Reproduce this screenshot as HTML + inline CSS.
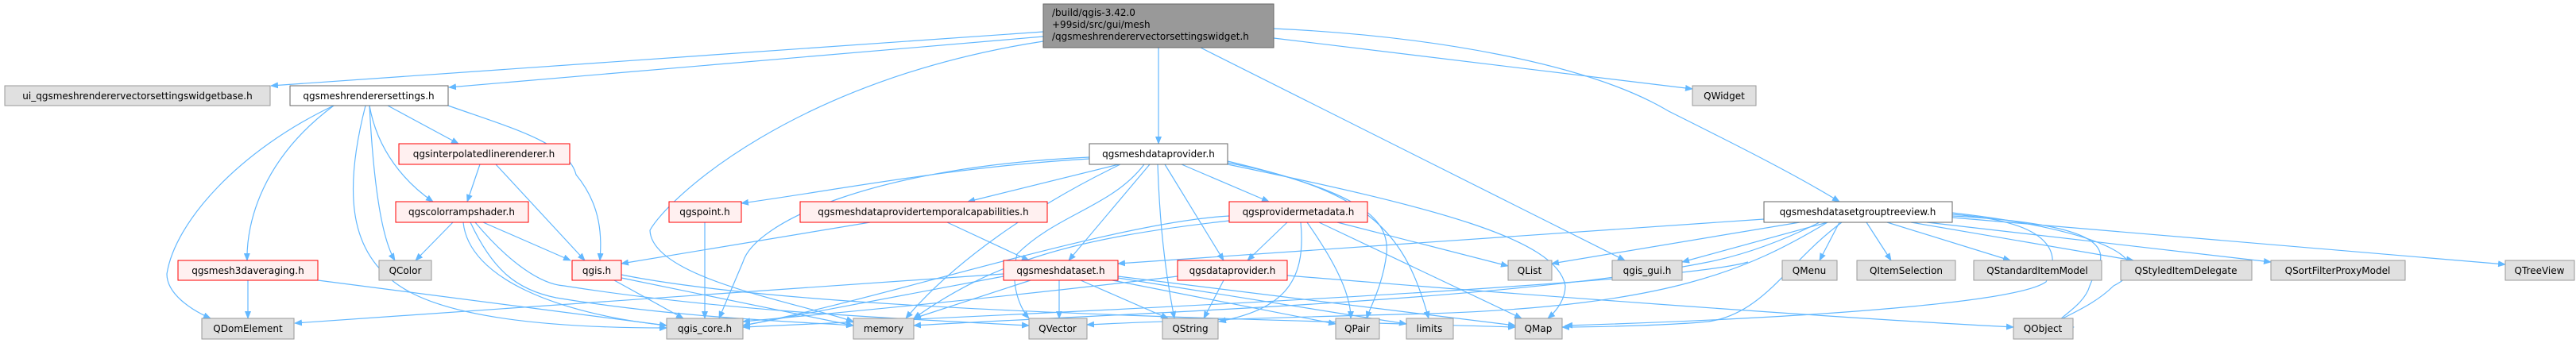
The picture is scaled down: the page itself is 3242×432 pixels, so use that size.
<!DOCTYPE html>
<html><head><meta charset="utf-8"><style>
html,body{margin:0;padding:0;background:#fff;}
svg{display:block;}
text{font-family:"DejaVu Sans","Liberation Sans",sans-serif;font-size:12px;fill:#000;}
.e{fill:none;stroke:#63b8ff;stroke-width:1.2;marker-end:url(#a);}
.g{fill:#e0e0e0;stroke:#999;}
.r{fill:#fff0f0;stroke:#f00;}
.w{fill:#fff;stroke:#666;}
</style></head><body>
<svg width="3242" height="432" viewBox="0 0 3242 432" xmlns="http://www.w3.org/2000/svg">
<defs><marker id="a" markerWidth="10" markerHeight="8" refX="9" refY="4" orient="auto" markerUnits="userSpaceOnUse"><path d="M0,0 L10,4 L0,8 z" fill="#63b8ff"/></marker></defs>
<g>
<!-- main -->
<path class="e" d="M1313,40 L341,108"/>
<path class="e" d="M1313,46 L565,110"/>
<path class="e" d="M1458,60 L1458,181"/>
<path class="e" d="M1511,60 L2045,328"/>
<path class="e" d="M1603,48 L2130,112"/>
<path class="e" d="M1603,36 C1800,45 2000,80 2100,140 C2180,180 2260,220 2315,254"/>
<path class="e" d="M1313,52 C1000,100 840,250 818,290 C820,350 1000,380 1074,405"/>
<!-- renderer settings -->
<path class="e" d="M420,133 C300,190 220,280 210,345 C210,370 240,390 265,401"/>
<path class="e" d="M420,133 C330,200 310,280 311,328"/>
<path class="e" d="M460,133 C430,250 440,330 520,370 C600,410 760,413 839,413"/>
<path class="e" d="M465,133 C470,230 480,300 497,328"/>
<path class="e" d="M465,133 C475,190 510,230 545,254"/>
<path class="e" d="M488,133 L577,181"/>
<path class="e" d="M564,133 C640,160 715,180 725,220 C758,260 757,300 755,328"/>
<!-- interpolated -->
<path class="e" d="M604,207 L588,254"/>
<path class="e" d="M624,207 L736,328"/>
<!-- colorramp -->
<path class="e" d="M570,280 L523,328"/>
<path class="e" d="M608,280 L718,328"/>
<path class="e" d="M583,280 C590,350 700,395 839,410"/>
<path class="e" d="M592,280 C620,340 650,365 700,375 C850,400 1000,405 1074,410"/>
<path class="e" d="M598,280 C640,330 680,358 710,360 C900,390 1100,400 1295,410"/>
<!-- 3daveraging -->
<path class="e" d="M312,353 L312,401"/>
<path class="e" d="M400,353 L839,410"/>
<!-- qgis.h -->
<path class="e" d="M773,353 L860,401"/>
<path class="e" d="M782,350 L1074,410"/>
<path class="e" d="M782,346 C1000,390 1500,400 1907,412"/>
<!-- qgspoint -->
<path class="e" d="M887,280 L887,401"/>
<!-- temporalcaps -->
<path class="e" d="M1095,280 L782,332"/>
<path class="e" d="M1192,280 L1295,328"/>
<!-- meshdataprovider -->
<path class="e" d="M1371,200 C1200,210 1050,240 933,256"/>
<path class="e" d="M1408,207 L1218,254"/>
<path class="e" d="M1371,198 C1100,210 950,280 935,330 L905,401"/>
<path class="e" d="M1447,207 L1345,328"/>
<path class="e" d="M1440,207 C1400,260 1330,270 1280,320 C1270,360 1285,390 1295,401"/>
<path class="e" d="M1457,207 C1460,300 1470,360 1478,401"/>
<path class="e" d="M1466,207 L1540,328"/>
<path class="e" d="M1487,207 L1597,254"/>
<path class="e" d="M1545,203 C1700,240 1750,270 1745,320 C1740,360 1725,385 1720,401"/>
<path class="e" d="M1545,205 C1730,240 1770,300 1798,401"/>
<path class="e" d="M1545,207 C1800,260 1960,300 1970,360 C1970,380 1955,395 1948,401"/>
<path class="e" d="M1410,207 C1300,260 1200,330 1140,401"/>
<!-- providermetadata -->
<path class="e" d="M1547,272 C1400,280 1100,380 935,410"/>
<path class="e" d="M1547,278 C1350,300 1250,330 1150,401"/>
<path class="e" d="M1683,280 L1898,335"/>
<path class="e" d="M1620,280 L1570,328"/>
<path class="e" d="M1637,280 C1645,360 1610,390 1534,405"/>
<path class="e" d="M1645,280 C1680,330 1700,370 1700,401"/>
<path class="e" d="M1660,280 L1915,401"/>
<!-- meshdataset -->
<path class="e" d="M1333,353 L1333,401"/>
<path class="e" d="M1360,353 L1470,401"/>
<path class="e" d="M1400,353 L1681,408"/>
<path class="e" d="M1407,350 L1770,408"/>
<path class="e" d="M1407,348 L1907,410"/>
<path class="e" d="M1297,353 L1150,401"/>
<path class="e" d="M1263,348 L935,410"/>
<path class="e" d="M1263,345 C900,370 600,390 371,407"/>
<!-- dataprovider -->
<path class="e" d="M1540,353 L1515,401"/>
<path class="e" d="M1620,347 C1900,370 2300,400 2534,412"/>
<path class="e" d="M1482,348 C1300,370 1100,390 935,405"/>
<!-- treeview -->
<path class="e" d="M2315,280 L2290,328"/>
<path class="e" d="M2349,280 L2380,328"/>
<path class="e" d="M2375,280 L2530,328"/>
<path class="e" d="M2405,280 L2685,328"/>
<path class="e" d="M2425,280 L2858,330"/>
<path class="e" d="M2457,274 L3153,333"/>
<path class="e" d="M2220,276 L1407,332"/>
<path class="e" d="M2265,280 L1953,332"/>
<path class="e" d="M2300,280 L2117,330"/>
<path class="e" d="M2318,280 C2250,330 2220,395 2150,405 C2100,410 2000,412 1966,412"/>
<path class="e" d="M2300,280 C2200,340 2100,385 1800,395 C1600,400 1450,405 1368,409"/>
<path class="e" d="M2290,280 C2250,300 2200,320 2150,330 C1900,380 1400,395 1150,410"/>
<path class="e" d="M2457,270 C2600,280 2590,330 2575,355 C2540,380 2300,400 1970,410"/>
<path class="e" d="M2457,272 C2700,285 2640,330 2630,360 C2620,395 2560,410 2609,412"/>
<path class="e" d="M2457,268 C2650,290 2720,330 2660,360 C2620,400 2550,410 2610,412"/>
<path class="e" d="M2200,330 C2100,360 1200,400 935,412"/>
</g>
<!-- nodes -->
<rect class="g" x="6" y="108" width="334" height="25"/><text x="173" y="125" text-anchor="middle">ui_qgsmeshrenderervectorsettingswidgetbase.h</text>
<rect class="w" x="365" y="108" width="199" height="25"/><text x="464" y="125" text-anchor="middle">qgsmeshrenderersettings.h</text>
<rect class="r" x="502" y="181" width="215" height="26"/><text x="609" y="198" text-anchor="middle">qgsinterpolatedlinerenderer.h</text>
<rect class="r" x="498" y="254" width="167" height="26"/><text x="581" y="271" text-anchor="middle">qgscolorrampshader.h</text>
<rect class="r" x="842" y="254" width="91" height="26"/><text x="887" y="271" text-anchor="middle">qgspoint.h</text>
<rect class="r" x="224" y="328" width="176" height="25"/><text x="312" y="345" text-anchor="middle">qgsmesh3daveraging.h</text>
<rect class="g" x="477" y="328" width="66" height="25"/><text x="510" y="345" text-anchor="middle">QColor</text>
<rect class="r" x="720" y="328" width="62" height="25"/><text x="751" y="345" text-anchor="middle">qgis.h</text>
<rect class="g" x="254" y="401" width="116" height="26"/><text x="312" y="418" text-anchor="middle">QDomElement</text>
<rect class="g" x="839" y="401" width="96" height="26"/><text x="887" y="418" text-anchor="middle">qgis_core.h</text>
<rect class="g" x="1074" y="401" width="76" height="26"/><text x="1112" y="418" text-anchor="middle">memory</text>
<rect x="1313" y="5" width="290" height="55" fill="#999" stroke="#666"/>
<text x="1324" y="20">/build/qgis-3.42.0</text><text x="1324" y="35">+99sid/src/gui/mesh</text><text x="1324" y="50">/qgsmeshrenderervectorsettingswidget.h</text>
<rect class="w" x="1371" y="181" width="174" height="26"/><text x="1458" y="198" text-anchor="middle">qgsmeshdataprovider.h</text>
<rect class="r" x="1007" y="254" width="311" height="26"/><text x="1162" y="271" text-anchor="middle">qgsmeshdataprovidertemporalcapabilities.h</text>
<rect class="r" x="1547" y="254" width="174" height="26"/><text x="1634" y="271" text-anchor="middle">qgsprovidermetadata.h</text>
<rect class="r" x="1263" y="328" width="144" height="25"/><text x="1335" y="345" text-anchor="middle">qgsmeshdataset.h</text>
<rect class="r" x="1482" y="328" width="138" height="25"/><text x="1551" y="345" text-anchor="middle">qgsdataprovider.h</text>
<rect class="g" x="1898" y="328" width="55" height="25"/><text x="1925" y="345" text-anchor="middle">QList</text>
<rect class="g" x="2029" y="328" width="88" height="25"/><text x="2073" y="345" text-anchor="middle">qgis_gui.h</text>
<rect class="g" x="2130" y="108" width="80" height="25"/><text x="2170" y="125" text-anchor="middle">QWidget</text>
<rect class="g" x="1295" y="401" width="73" height="26"/><text x="1331" y="418" text-anchor="middle">QVector</text>
<rect class="g" x="1463" y="401" width="70" height="26"/><text x="1498" y="418" text-anchor="middle">QString</text>
<rect class="g" x="1681" y="401" width="55" height="26"/><text x="1708" y="418" text-anchor="middle">QPair</text>
<rect class="g" x="1770" y="401" width="59" height="26"/><text x="1799" y="418" text-anchor="middle">limits</text>
<rect class="g" x="1907" y="401" width="59" height="26"/><text x="1936" y="418" text-anchor="middle">QMap</text>
<rect class="w" x="2220" y="254" width="237" height="26"/><text x="2338" y="271" text-anchor="middle">qgsmeshdatasetgrouptreeview.h</text>
<rect class="g" x="2243" y="328" width="69" height="25"/><text x="2277" y="345" text-anchor="middle">QMenu</text>
<rect class="g" x="2337" y="328" width="124" height="25"/><text x="2399" y="345" text-anchor="middle">QItemSelection</text>
<rect class="g" x="2484" y="328" width="161" height="25"/><text x="2564" y="345" text-anchor="middle">QStandardItemModel</text>
<rect class="g" x="2669" y="328" width="165" height="25"/><text x="2751" y="345" text-anchor="middle">QStyledItemDelegate</text>
<rect class="g" x="2858" y="328" width="169" height="25"/><text x="2942" y="345" text-anchor="middle">QSortFilterProxyModel</text>
<rect class="g" x="3153" y="328" width="87" height="25"/><text x="3196" y="345" text-anchor="middle">QTreeView</text>
<rect class="g" x="2534" y="401" width="75" height="26"/><text x="2571" y="418" text-anchor="middle">QObject</text>
</svg>
</body></html>
